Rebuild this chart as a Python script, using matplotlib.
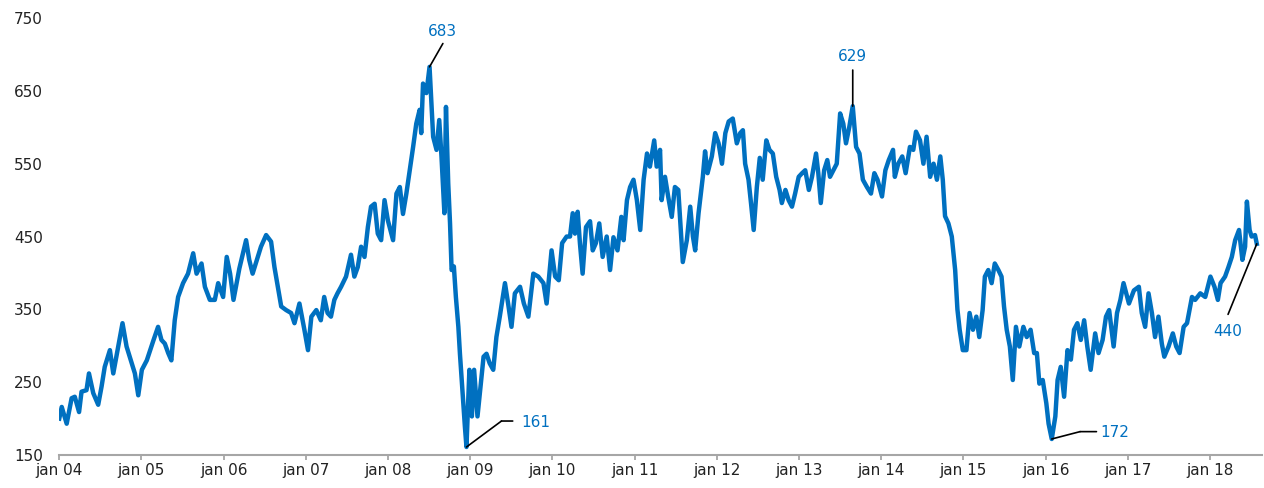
import pandas as pd
import matplotlib.pyplot as plt
import matplotlib.dates as mdates
from matplotlib.ticker import FuncFormatter
from matplotlib.transforms import offset_copy

# valores (aprox. quinzenais)
datas = [
    # 2004
    '2004-01-02', '2004-01-13', '2004-02-04', '2004-02-26', '2004-03-11', '2004-03-30', '2004-04-10',
    '2004-05-02', '2004-05-13', '2004-06-01', '2004-06-23', '2004-07-08', '2004-07-22', '2004-08-14',
    '2004-08-29', '2004-09-20', '2004-10-09', '2004-10-27', '2004-11-19', '2004-12-03', '2004-12-18',
    # 2005
    '2005-01-03', '2005-01-25', '2005-02-24', '2005-03-16', '2005-03-31', '2005-04-15', '2005-04-30',
    '2005-05-14', '2005-05-29', '2005-06-13', '2005-07-05', '2005-07-27', '2005-08-19', '2005-09-03',
    '2005-09-25', '2005-10-10', '2005-11-01', '2005-11-23', '2005-12-08', '2005-12-30',
    # 2006
    '2006-01-15', '2006-01-30', '2006-02-14', '2006-03-12', '2006-04-11', '2006-04-25', '2006-05-10',
    '2006-06-02', '2006-06-16', '2006-07-09', '2006-07-31', '2006-08-15', '2006-08-30', '2006-09-14',
    '2006-10-06', '2006-10-28', '2006-11-12', '2006-12-04', '2006-12-26',
    # 2007
    '2007-01-11', '2007-01-26', '2007-02-17', '2007-03-09', '2007-03-24', '2007-04-08', '2007-04-23',
    '2007-05-08', '2007-05-22', '2007-06-07', '2007-06-29', '2007-07-21', '2007-08-05', '2007-08-20',
    '2007-09-04', '2007-09-19', '2007-10-04', '2007-10-18', '2007-11-03', '2007-11-17', '2007-12-02',
    '2007-12-17',
    # 2008
    '2008-01-01', '2008-01-24', '2008-02-08', '2008-02-23', '2008-03-08', '2008-03-23', '2008-04-07',
    '2008-04-22', '2008-05-06', '2008-05-21', '2008-05-28', '2008-06-05', '2008-06-20', '2008-07-04',
    '2008-07-20', '2008-08-04', '2008-08-16', '2008-08-26', '2008-09-08', '2008-09-15', '2008-09-25',
    '2008-10-03', '2008-10-10', '2008-10-20', '2008-10-29', '2008-11-09', '2008-11-16', '2008-11-26',
    '2008-12-08', '2008-12-15', '2008-12-28',
    # 2009
    '2009-01-08', '2009-01-18', '2009-02-02', '2009-02-17', '2009-03-01', '2009-03-14', '2009-03-28',
    '2009-04-13', '2009-04-27', '2009-05-12', '2009-06-04', '2009-06-18', '2009-07-03', '2009-07-18',
    '2009-08-10', '2009-08-27', '2009-09-16', '2009-10-08', '2009-10-30', '2009-11-22', '2009-12-06',
    '2009-12-28',
    # 2010
    '2010-01-13', '2010-01-29', '2010-02-13', '2010-03-05', '2010-03-20', '2010-04-01', '2010-04-11',
    '2010-04-23', '2010-05-03', '2010-05-15', '2010-05-30', '2010-06-17', '2010-06-29', '2010-07-13',
    '2010-07-28', '2010-08-12', '2010-08-30', '2010-09-14', '2010-09-29', '2010-10-17', '2010-11-03',
    '2010-11-13', '2010-11-28', '2010-12-12', '2010-12-27',
    # 2011
    '2011-01-11', '2011-01-26', '2011-02-10', '2011-02-25', '2011-03-10', '2011-03-29', '2011-04-09',
    '2011-04-24', '2011-05-01', '2011-05-16', '2011-05-30', '2011-06-15', '2011-06-29', '2011-07-14',
    '2011-08-03', '2011-08-21', '2011-09-05', '2011-09-17', '2011-09-27', '2011-10-12', '2011-10-31',
    '2011-11-10', '2011-11-21', '2011-12-10', '2011-12-25',
    # 2012
    '2012-01-09', '2012-01-24', '2012-02-08', '2012-02-23', '2012-03-12', '2012-03-30', '2012-04-14',
    '2012-04-26', '2012-05-06', '2012-05-21', '2012-06-01', '2012-06-13', '2012-06-27', '2012-07-10',
    '2012-07-23', '2012-08-08', '2012-08-22', '2012-09-06', '2012-09-21', '2012-10-06', '2012-10-16',
    '2012-11-01', '2012-11-15', '2012-11-30', '2012-12-14', '2012-12-30',
    # 2013
    '2013-01-14', '2013-01-28', '2013-02-13', '2013-02-27', '2013-03-17', '2013-03-27', '2013-04-07',
    '2013-04-22', '2013-05-06', '2013-05-18', '2013-06-02', '2013-06-17', '2013-07-02', '2013-07-16',
    '2013-07-28', '2013-08-12', '2013-08-27', '2013-09-11', '2013-09-26', '2013-10-11', '2013-10-29',
    '2013-11-16', '2013-12-01', '2013-12-15',
    # 2014
    '2014-01-04', '2014-01-19', '2014-02-03', '2014-02-22', '2014-03-02', '2014-03-17', '2014-04-04',
    '2014-04-19', '2014-05-08', '2014-05-23', '2014-06-04', '2014-06-22', '2014-07-07', '2014-07-21',
    '2014-08-06', '2014-08-21', '2014-09-05', '2014-09-20', '2014-10-01', '2014-10-11', '2014-10-26',
    '2014-11-10', '2014-11-25', '2014-12-05', '2014-12-15', '2014-12-29',
    # 2015
    '2015-01-14', '2015-01-28', '2015-02-12', '2015-02-27', '2015-03-12', '2015-03-27', '2015-04-06',
    '2015-04-21', '2015-05-06', '2015-05-20', '2015-06-05', '2015-06-19', '2015-06-30', '2015-07-12',
    '2015-07-26', '2015-08-08', '2015-08-22', '2015-09-06', '2015-09-24', '2015-10-09', '2015-10-26',
    '2015-11-11', '2015-11-23', '2015-12-04', '2015-12-19',
    # 2016
    '2016-01-04', '2016-01-14', '2016-01-28', '2016-02-13', '2016-02-23', '2016-03-08', '2016-03-23',
    '2016-04-07', '2016-04-22', '2016-05-06', '2016-05-21', '2016-06-05', '2016-06-20', '2016-07-04',
    '2016-07-19', '2016-08-08', '2016-08-23', '2016-09-10', '2016-09-25', '2016-10-09', '2016-10-29',
    '2016-11-13', '2016-11-28', '2016-12-12',
    # 2017
    '2017-01-05', '2017-01-27', '2017-02-18', '2017-03-03', '2017-03-18', '2017-04-02', '2017-04-17',
    '2017-05-01', '2017-05-16', '2017-05-31', '2017-06-11', '2017-06-30', '2017-07-19', '2017-08-03',
    '2017-08-18', '2017-09-05', '2017-09-20', '2017-10-12', '2017-10-26', '2017-11-18', '2017-12-10',
    # 2018
    '2018-01-02', '2018-01-20', '2018-02-04', '2018-02-16', '2018-03-08', '2018-03-23', '2018-04-07',
    '2018-04-22', '2018-05-09', '2018-05-24', '2018-06-05', '2018-06-13', '2018-06-25', '2018-07-04',
    '2018-07-19', '2018-07-27',
]

valores = [
    # 2004
    200, 216, 193, 228, 230, 209, 237, 239, 262, 235, 219, 244, 271, 294, 262, 299, 331, 299, 276, 262, 232,
    # 2005
    267, 280, 308, 326, 308, 303, 290, 280, 335, 367, 386, 399, 427, 399, 413, 381, 363, 363, 386, 367,
    # 2006
    422, 399, 363, 406, 445, 418, 399, 422, 436, 452, 443, 408, 381, 354, 349, 345, 331, 358, 322,
    # 2007
    294, 340, 349, 335, 367, 345, 340, 363, 372, 381, 395, 425, 395, 408, 436, 422, 463, 491, 495, 454,
    445, 500,
    # 2008
    472, 445, 509, 518, 481, 509, 541, 573, 605, 624, 592, 660, 647, 683, 587, 569, 610, 560, 482, 628,
    523, 468, 404, 409, 367, 326, 289, 244, 189, 161, 267,
    # 2009
    203, 267, 203, 249, 285, 289, 276, 267, 312, 340, 386, 358, 326, 372, 381, 358, 340, 399, 395, 386,
    358, 431,
    # 2010
    395, 390, 441, 450, 450, 482, 454, 484, 441, 399, 463, 471, 431, 441, 468, 422, 450, 404, 449, 431,
    477, 445, 500, 518, 528,
    # 2011
    500, 459, 528, 564, 546, 582, 546, 569, 500, 532, 505, 477, 518, 514, 415, 445, 491, 450, 431, 482,
    532, 567, 537, 560, 592,
    # 2012
    578, 550, 592, 608, 612, 578, 592, 596, 550, 528, 496, 459, 518, 558, 528, 582, 569, 564, 532, 514,
    496, 514, 500, 491, 509, 532,
    # 2013
    537, 541, 514, 532, 564, 537, 496, 541, 555, 532, 541, 550, 619, 605, 578, 601, 629, 573, 564, 528,
    518, 509, 537, 528,
    # 2014
    505, 541, 555, 569, 532, 550, 560, 537, 573, 569, 594, 582, 550, 587, 532, 550, 528, 560, 528, 478,
    468, 450, 404, 350, 322, 294,
    # 2015
    294, 345, 322, 340, 312, 349, 395, 404, 386, 413, 404, 395, 354, 322, 299, 253, 326, 299, 326, 312,
    322, 290, 290, 248, 253,
    # 2016
    221, 193, 172, 203, 253, 271, 230, 294, 281, 322, 331, 308, 335, 299, 267, 317, 290, 308, 340, 349,
    299, 345, 363, 386,
    # 2017
    358, 376, 381, 345, 326, 372, 345, 312, 340, 303, 285, 299, 317, 299, 290, 326, 331, 367, 363, 372, 367,
    # 2018
    395, 381, 363, 386, 395, 408, 422, 445, 459, 418, 436, 498, 459, 450, 452, 440,
]

serie = pd.Series(valores, index=pd.to_datetime(datas))

azul = '#0070C0'
cinza = '#A6A6A6'
texto = '#222222'

fig, ax = plt.subplots(figsize=(12.64, 4.88), dpi=100)
fig.subplots_adjust(left=0.0467, right=0.9984, bottom=0.0676, top=0.963)

ax.plot(serie.index, serie.values, color=azul, lw=3.2, solid_joinstyle='round')

ax.set_ylim(150, 750)
ax.set_yticks(range(150, 751, 100))
ax.set_xlim(pd.Timestamp('2004-01-01'), pd.Timestamp('2018-08-19'))
ax.xaxis.set_major_locator(mdates.YearLocator())
ax.xaxis.set_major_formatter(FuncFormatter(lambda x, p: 'jan ' + mdates.num2date(x).strftime('%y')))

for lado in ['top', 'right', 'left']:
    ax.spines[lado].set_visible(False)
ax.spines['bottom'].set_color(cinza)
ax.spines['bottom'].set_linewidth(1.5)

ax.tick_params(axis='y', length=0, pad=11.5, labelsize=11, labelcolor=texto)
ax.tick_params(axis='x', length=3.6, width=1.3, color=cinza, pad=2, labelsize=11, labelcolor=texto)


def rotulo(data, caminho, pos_texto, ha):
    x = mdates.date2num(data)
    y = serie[data]
    pontos = [(0, 0)] + caminho
    for (x0, y0), (x1, y1) in zip(pontos[:-1], pontos[1:]):
        ax.annotate('', xy=(x, y), xycoords=offset_copy(ax.transData, fig=fig, x=x0, y=y0, units='points'),
                    xytext=(x, y), textcoords=offset_copy(ax.transData, fig=fig, x=x1, y=y1, units='points'),
                    arrowprops=dict(arrowstyle='-', color='black', lw=1.2, shrinkA=0, shrinkB=0))
    ax.annotate('{0:.0f}'.format(y), xy=(x, y), xytext=pos_texto, textcoords='offset points',
                ha=ha, va='center', color=azul, fontsize=11)


rotulo(serie.idxmax(), [(9.6, 16.8)], (9.6, 25.6), 'center')
rotulo(serie.idxmin(), [(25.2, 18.7), (33.3, 18.7)], (39.6, 18.0), 'left')
rotulo(serie['2013'].idxmax(), [(0, 26)], (0, 35.6), 'center')
rotulo(serie['2015':].idxmin(), [(20.4, 5.3), (32.2, 5.3)], (34.8, 4.8), 'left')
rotulo(serie.index[-1], [(-20.7, -50.8)], (-20.7, -63), 'center')

plt.savefig('out.png', dpi=100)
